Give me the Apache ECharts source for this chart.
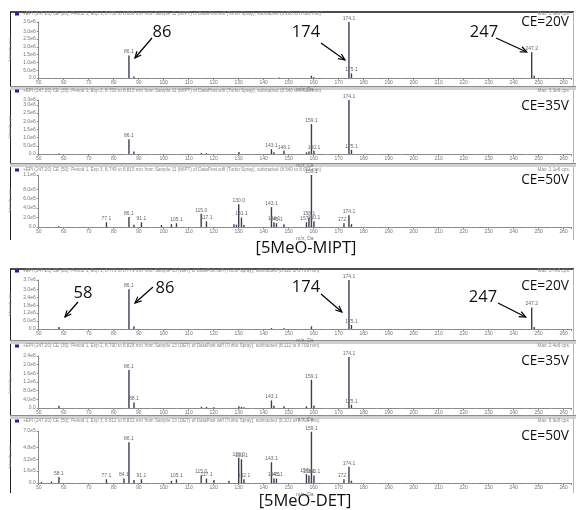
<!DOCTYPE html>
<html><head><meta charset="utf-8">
<script src="https://cdn.jsdelivr.net/npm/echarts@6/dist/echarts.min.js"></script>
<style>html,body{margin:0;padding:0;background:#fff}#c{width:576px;height:510px}</style>
</head><body><div id="c"></div>
<script>
// ---- data (m/z and intensity in cps) ----
const xMin = 50, xMax = 263, xStep = 10;

const mipt20_mz  = [86.1, 88.1, 146.1, 159.1, 160.1, 174.1, 175.1, 247.2, 248.2];
const mipt20_int = [1.45e6, 1.0e5, 4e4, 1.5e5, 5e4, 3.6e6, 3.0e5, 1.65e6, 1.5e5];

const mipt35_mz  = [58.1, 86.1, 88.1, 115.0, 117.1, 130.1, 143.1, 144.1, 148.1, 157.1, 158.1, 159.1, 160.1, 174.1, 175.1];
const mipt35_int = [3e4, 9.0e5, 1.5e5, 6e4, 5e4, 1.2e5, 3.0e5, 1.0e5, 2.0e5, 1.0e5, 1.5e5, 1.83e6, 2.0e5, 3.3e6, 2.5e5];

const mipt50_mz  = [58.1, 77.1, 86.1, 88.1, 91.1, 99.1, 103.1, 105.1, 115.0, 117.1, 128.1, 129.1, 130.0, 131.1, 132.1, 143.1, 144.1, 145.1, 148.1, 157.1, 158.1, 159.1, 160.1, 172.1, 174.1, 175.1];
const mipt50_int = [1.5e4, 1.0e5, 2.1e5, 5e4, 1.0e5, 4e4, 6e4, 8e4, 2.8e5, 1.2e5, 6e4, 5e4, 4.8e5, 2.0e5, 4e4, 4.2e5, 1.0e5, 8e4, 6e4, 1.0e5, 2.0e5, 1.1e6, 1.2e5, 8e4, 2.5e5, 6e4];

const det20_mz  = [58.1, 86.1, 88.1, 143.1, 148.1, 159.1, 174.1, 175.1, 247.2, 248.2];
const det20_int = [1.5e5, 3.0e6, 2.0e5, 6e4, 5e4, 2.0e5, 3.7e6, 3.0e5, 1.63e6, 1.5e5];

const det35_mz  = [58.1, 86.1, 88.1, 115.1, 117.1, 120.1, 130.1, 131.1, 132.1, 143.1, 144.1, 148.1, 157.1, 159.1, 160.1, 174.1, 175.1];
const det35_int = [1.0e5, 1.75e6, 2.5e5, 6e4, 5e4, 4e4, 8e4, 5e4, 4e4, 3.5e5, 1.0e5, 8e4, 8e4, 1.3e6, 1.2e5, 2.35e6, 1.5e5];

const det50_mz  = [51.1, 55.1, 58.1, 77.1, 84.1, 86.1, 88.1, 91.1, 103.1, 105.1, 115.0, 117.1, 120.1, 126.1, 130.0, 131.1, 132.1, 143.1, 144.1, 145.1, 157.1, 158.1, 159.1, 160.1, 172.1, 174.1, 175.1];
const det50_int = [1.5e4, 2e4, 8e4, 5e4, 6e4, 5.5e5, 4e4, 5e4, 3e4, 5e4, 1.0e5, 6e4, 4e4, 3e4, 3.4e5, 3.2e5, 5e4, 2.8e5, 6e4, 6e4, 1.2e5, 1.0e5, 6.9e5, 1.0e5, 5e4, 2.2e5, 3e4];

const panelMz  = [mipt20_mz, mipt35_mz, mipt50_mz, det20_mz, det35_mz, det50_mz];
const panelInt = [mipt20_int, mipt35_int, mipt50_int, det20_int, det35_int, det50_int];
const yMaxes     = [3.6e6, 3.3e6, 1.1e6, 3.7e6, 2.4e6, 7.0e5];
const yIntervals = [5e5, 5e5, 2e5, 6e5, 4e5, 1.6e5];
const ceLabels   = ['CE=20V', 'CE=35V', 'CE=50V', 'CE=20V', 'CE=35V', 'CE=50V'];
const maxTexts   = ['Max: 3.6e6 cps.', 'Max: 3.3e6 cps.', 'Max: 1.1e6 cps.', 'Max: 3.7e6 cps.', 'Max: 2.4e6 cps.', 'Max: 6.9e5 cps.'];
const titleTexts = [
  '+EPI (247.20) CE (20): Period 1, Exp 1, 8.750 to 8.800 min from Sample 11 (MIPT) of DataPost.wiff (Turbo Spray), subtracted (8.200 to 8.600 min)',
  '+EPI (247.20) CE (35): Period 1, Exp 2, 8.750 to 8.815 min from Sample 11 (MIPT) of DataPost.wiff (Turbo Spray), subtracted (8.540 to 8.603 min)',
  '+EPI (247.20) CE (50): Period 1, Exp 3, 8.749 to 8.815 min from Sample 11 (MIPT) of DataPost.wiff (Turbo Spray), subtracted (8.540 to 8.603 min)',
  '+EPI (247.20) CE (20): Period 1, Exp 1, 8.771 to 8.779 min from Sample 13 (DET) of DataPost.wiff (Turbo Spray), subtracted (8.112 to 8.709 min)',
  '+EPI (247.20) CE (35): Period 1, Exp 2, 8.790 to 8.828 min from Sample 13 (DET) of DataPost.wiff (Turbo Spray), subtracted (8.112 to 8.709 min)',
  '+EPI (247.20) CE (50): Period 1, Exp 3, 8.812 to 8.832 min from Sample 13 (DET) of DataPost.wiff (Turbo Spray), subtracted (8.101 to 8.709 min)'
];
const compoundLabels = ['[5MeO-MIPT]', '[5MeO-DET]'];

// annotations: big m/z numbers with arrows pointing to peaks
const annPanel = [0, 0, 0, 3, 3, 3, 3];
const annMz    = [86.1, 174.1, 247.2, 58.1, 86.1, 174.1, 247.2];
const annText  = ['86', '174', '247', '58', '86', '174', '247'];

// ---- layout (pixels) ----
const gridTops   = [22, 100, 175, 280, 356, 431];
const baselines  = [78, 154, 227, 329, 408, 483];
const titleY     = [14, 91, 170, 271, 346, 421];
const ceY        = [22, 106, 180, 286, 361, 436];
const gLeft = 38.7, gRight = 4.8;
// annotation geometry: text centre, arrow tail, tip offset from peak (dx) and tip y
const annTextXY = [[162,32],[306,32],[484,32],[83,293],[165,288],[306,287],[483,297]];
const annTail   = [[152,38],[321,43],[496,38],[78,302],[153,287],[321,294],[498,303]];
const annTipDx  = [6, -4, -5, 6, 6, -7, -6];
const annTipY   = [58, 60, 52, 317, 303, 312, 317];

const chart = echarts.init(document.getElementById('c'), null, {renderer: 'canvas'});

const fmtY = v => v === 0 ? '0.0' : v.toExponential(1).replace('e+', 'e');
const grids = [], xAxes = [], yAxes = [], series = [];
for (let i = 0; i < 6; i++) {
  grids.push({left: gLeft, right: gRight, top: gridTops[i], height: baselines[i] - gridTops[i]});
  xAxes.push({
    type: 'value', gridIndex: i, min: xMin, max: xMax, interval: xStep,
    name: 'm/z, Da', nameLocation: 'middle', nameGap: 9,
    nameTextStyle: {fontSize: 5, color: '#777', fontFamily: 'Liberation Sans'},
    axisLine: {lineStyle: {color: '#8a8a8a', width: 1}},
    axisTick: {length: 2, lineStyle: {color: '#8a8a8a'}},
    minorTick: {show: true, splitNumber: 2, length: 1, lineStyle: {color: '#aaa'}},
    splitLine: {show: false},
    axisLabel: {fontSize: 5, color: '#777', margin: 2, showMaxLabel: false, fontFamily: 'Liberation Sans'}
  });
  yAxes.push({
    type: 'value', gridIndex: i, min: 0, max: yMaxes[i], interval: yIntervals[i],
    name: 'Intensity, cps', nameLocation: 'middle', nameGap: 22,
    nameTextStyle: {fontSize: 4, color: '#888', fontFamily: 'Liberation Sans'},
    axisLine: {show: true, lineStyle: {color: '#8a8a8a', width: 1}},
    axisTick: {show: true, length: 2, lineStyle: {color: '#8a8a8a'}},
    splitLine: {show: false},
    axisLabel: {fontSize: 5, color: '#777', margin: 3, formatter: fmtY, showMaxLabel: true, fontFamily: 'Liberation Sans'}
  });
  const thr = yMaxes[i] * 0.06;
  series.push({
    type: 'bar', xAxisIndex: i, yAxisIndex: i, barWidth: 1.4,
    data: panelMz[i].map((m, k) => [m, panelInt[i][k]]),
    itemStyle: {color: '#3c3c56'},
    label: {show: true, position: 'top', distance: 1, fontSize: 5, color: '#666', fontFamily: 'Liberation Sans',
      formatter: p => p.value[1] >= thr ? p.value[0].toFixed(1) : ''},
    silent: true, animation: false
  });
}

chart.setOption({
  animation: false,
  grid: grids, xAxis: xAxes, yAxis: yAxes, series: series
});

// ---- frames, titles, annotations ----
const g = [];
const bigFont = '"Open Sans", "Noto Sans", sans-serif';
function hline(x1, x2, y, color, w) { g.push({type: 'line', shape: {x1: x1, y1: y, x2: x2, y2: y}, style: {stroke: color, lineWidth: w}, silent: true}); }
function vline(x, y1, y2, color, w) { g.push({type: 'line', shape: {x1: x, y1: y1, x2: x, y2: y2}, style: {stroke: color, lineWidth: w}, silent: true}); }
function band(y, h) {
  g.push({type: 'rect', shape: {x: 10, y: y, width: 566, height: h}, style: {fill: '#d2d0cc'}, silent: true});
  hline(10, 576, y + 0.5, '#8c8c8c', 1);
}
// group frames
hline(10, 574, 12, '#111', 1.6);
hline(10, 574, 269, '#111', 1.6);
vline(10.5, 12, 240, '#222', 1);
vline(10.5, 269, 493, '#222', 1);
vline(573.5, 12, 240, '#b5b5b5', 1);
vline(573.5, 269, 493, '#b5b5b5', 1);
band(86, 4); band(163, 4); band(340, 4); band(415, 4);

for (let i = 0; i < 6; i++) {
  g.push({type: 'rect', shape: {x: 15, y: titleY[i] - 1.5, width: 4, height: 3}, style: {fill: '#1c1cb0'}, silent: true});
  g.push({type: 'text', x: 23, y: titleY[i], style: {text: titleTexts[i], fontSize: 4.6, fill: '#888', textVerticalAlign: 'middle', fontFamily: 'Liberation Sans'}, silent: true});
  g.push({type: 'text', x: 570, y: titleY[i], style: {text: maxTexts[i], fontSize: 4.6, fill: '#888', textAlign: 'right', textVerticalAlign: 'middle', fontFamily: 'Liberation Sans'}, silent: true});
  g.push({type: 'text', x: 569, y: ceY[i], style: {text: ceLabels[i], fontSize: 13.7, fill: '#111', textAlign: 'right', textVerticalAlign: 'middle', fontFamily: bigFont}, silent: true});
}
g.push({type: 'text', x: 306, y: 248, style: {text: compoundLabels[0], fontSize: 16.5, fill: '#111', textAlign: 'center', textVerticalAlign: 'middle', fontFamily: bigFont}, silent: true});
g.push({type: 'text', x: 305, y: 501, style: {text: compoundLabels[1], fontSize: 16.5, fill: '#111', textAlign: 'center', textVerticalAlign: 'middle', fontFamily: bigFont}, silent: true});

function arrow(x1, y1, x2, y2) {
  const a = Math.atan2(y2 - y1, x2 - x1), L = 7, w = 0.42;
  const p1 = [x2 - L * Math.cos(a - w), y2 - L * Math.sin(a - w)];
  const p2 = [x2 - L * Math.cos(a + w), y2 - L * Math.sin(a + w)];
  g.push({type: 'line', shape: {x1: x1, y1: y1, x2: x2, y2: y2}, style: {stroke: '#000', lineWidth: 1.2}, silent: true});
  g.push({type: 'polyline', shape: {points: [p1, [x2, y2], p2]}, style: {stroke: '#000', lineWidth: 1.2, fill: null}, silent: true});
}
for (let k = 0; k < annMz.length; k++) {
  const px = chart.convertToPixel({xAxisIndex: annPanel[k]}, annMz[k]);
  arrow(annTail[k][0], annTail[k][1], px + annTipDx[k], annTipY[k]);
  g.push({type: 'text', x: annTextXY[k][0], y: annTextXY[k][1], style: {text: annText[k], fontSize: 16.5, fill: '#111', textAlign: 'center', textVerticalAlign: 'middle', fontFamily: bigFont}, silent: true});
}
chart.setOption({graphic: {elements: g}});
</script>
</body></html>
